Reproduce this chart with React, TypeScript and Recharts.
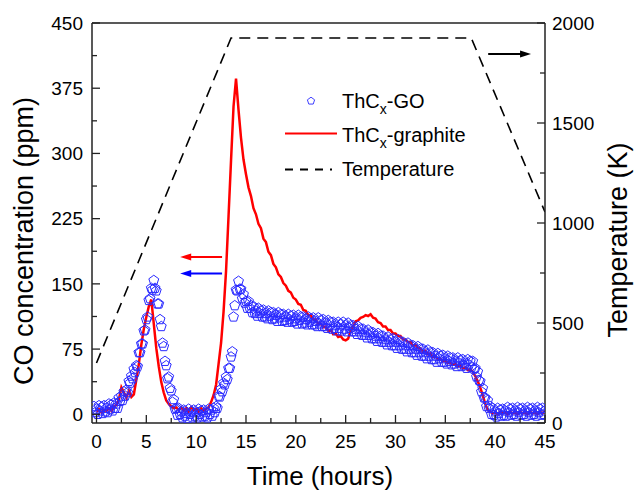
import React from 'react';
import { ComposedChart, Scatter, Line, XAxis, YAxis, ReferenceLine, Legend, Label } from 'recharts';

const FONT = '"Liberation Sans", Arial, sans-serif';

// ThCx-GO, logged every 0.125 h from t = -0.25 h
const goStart = -0.25;
const goStep = 0.125;
const goCO = [
  9, 2, 6, 0, 10, 4, 8, 1,
  10, 3, 7, 2, 12, 6, 11, 4,
  13, 7, 12, 7, 19, 15, 21, 16,
  26, 21, 28, 25, 38, 36, 44, 41,
  52, 48, 56, 55, 71, 71, 81, 81,
  96, 97, 109, 112, 131, 133, 145, 143,
  154, 145, 142, 127, 127, 109, 101, 82,
  78, 61, 56, 41, 43, 30, 27, 14,
  17, 6, 7, -1, 7, 0, 3, -4,
  5, -2, 1, -5, 6, 0, 3, -4,
  5, -2, 2, -4, 6, 0, 4, -3,
  5, -2, 2, -4, 6, 0, 5, -2,
  7, 2, 9, 7, 21, 20, 29, 26,
  36, 34, 43, 40, 53, 53, 66, 72,
  112, 125, 143, 142, 153, 144, 144, 133,
  138, 128, 130, 122, 130, 122, 125, 117,
  124, 116, 119, 113, 122, 116, 119, 112,
  120, 112, 116, 110, 119, 113, 117, 109,
  117, 110, 114, 107, 117, 111, 115, 107,
  115, 108, 112, 106, 115, 109, 113, 106,
  114, 107, 110, 104, 114, 108, 112, 104,
  112, 105, 109, 103, 112, 106, 110, 103,
  111, 103, 107, 101, 111, 104, 108, 101,
  109, 101, 105, 99, 108, 102, 106, 98,
  106, 99, 102, 96, 106, 99, 103, 96,
  106, 98, 102, 95, 105, 99, 102, 95,
  102, 95, 98, 92, 101, 95, 98, 91,
  98, 91, 94, 88, 97, 91, 94, 87,
  94, 87, 90, 84, 93, 87, 90, 83,
  90, 83, 86, 80, 89, 83, 86, 79,
  87, 79, 83, 76, 86, 79, 83, 75,
  83, 75, 79, 72, 82, 75, 79, 71,
  79, 71, 75, 68, 78, 71, 75, 67,
  75, 67, 71, 64, 74, 67, 71, 63,
  71, 63, 67, 60, 70, 64, 67, 60,
  68, 60, 64, 58, 67, 61, 65, 57,
  65, 58, 61, 55, 65, 59, 62, 55,
  63, 56, 59, 53, 63, 57, 61, 54,
  61, 52, 53, 43, 49, 39, 38, 26,
  30, 19, 19, 9, 16, 7, 9, 0,
  7, -1, 3, -3, 7, 1, 5, -2,
  6, -1, 4, -2, 8, 2, 6, -1,
  7, 0, 4, -2, 8, 2, 6, -1,
  7, 0, 4, -2, 8, 2, 6, -1,
  7, 0, 4, -2, 8, 2, 6, -1,
  7, 0, 4,
];

// ThCx-graphite, logged every 0.25 h from t = 0 h
const graphiteStart = 0;
const graphiteStep = 0.25;
const graphiteCO = [
  3, 6, 2, 5, 4, 7, 4, 9, 11, 17, 31, 25, 19, 27, 20, 23, 40, 58, 80, 98,
  112, 124, 132, 104, 76, 55, 37, 25, 16, 12, 9, 7, 8, 5, 8, 4, 7, 3, 8, 5,
  6, 3, 7, 4, 6, 8, 14, 22, 34, 58, 82, 118, 165, 228, 292, 354, 386, 350, 318, 293,
  276, 261, 251, 237, 230, 219, 214, 202, 198, 187, 183, 173, 169, 161, 158, 151, 148, 142, 140, 134,
  132, 127, 126, 120, 119, 114, 114, 109, 109, 104, 104, 100, 101, 96, 97, 92, 93, 89, 90, 86,
  85, 87, 96, 101, 107, 108, 111, 112, 114, 113, 115, 111, 110, 106, 105, 101, 101, 97, 97, 93,
  93, 90, 90, 86, 86, 83, 83, 79, 80, 76, 76, 72, 73, 69, 70, 66, 67, 63, 64, 61,
  62, 59, 60, 57, 58, 55, 56, 53, 54, 51, 52, 49, 44, 38, 31, 22, 12, 5, 3, 1,
  2, 0, 3, 1, 2, 0, 3, 1, 2, 0, 3, 1, 2, 0, 3, 1, 2, 0, 3, 1, 4,
];

// furnace temperature program
const tempTime = [0, 13.5, 37.6, 45];
const tempK = [300, 1925, 1925, 1055];

const timeTicks = [0, 2.5, 5, 7.5, 10, 12.5, 15, 17.5, 20, 22.5, 25, 27.5, 30, 32.5, 35, 37.5, 40, 42.5, 45];
const coTicks = [0, 37.5, 75, 112.5, 150, 187.5, 225, 262.5, 300, 337.5, 375, 412.5, 450];
const tempTicks = [0, 250, 500, 750, 1000, 1250, 1500, 1750, 2000];

const goData = goCO.map((co, i) => ({ t: goStart + i * goStep, co }));
const graphiteData = graphiteCO.map((co, i) => ({ t: graphiteStart + i * graphiteStep, co }));
const tempData = tempTime.map((t, i) => ({ t, temp: tempK[i] }));

const AXIS = '#222';
const BLUE = '#2a2aff';
const RED = '#ff0000';

const Pentagon = ({ cx, cy, r = 5.2, stroke = BLUE, sw = 1 }: any) => {
  const pts = [];
  for (let k = 0; k < 5; k++) {
    const a = -Math.PI / 2 + (k * 2 * Math.PI) / 5;
    pts.push(`${cx + r * Math.cos(a)},${cy + r * Math.sin(a)}`);
  }
  return <polygon points={pts.join(' ')} fill="none" stroke={stroke} strokeWidth={sw} />;
};

const BottomTick = ({ x, y, payload }: any) => {
  const major = payload.value % 5 === 0;
  return (
    <g>
      <line x1={x} x2={x} y1={y} y2={y - (major ? 8 : 5)} stroke={AXIS} strokeWidth={1.3} />
      {major && (
        <text x={x} y={y + 25} textAnchor="middle" fontSize={19} fontFamily={FONT} fill="#000">
          {payload.value}
        </text>
      )}
    </g>
  );
};

const LeftTick = ({ x, y, payload }: any) => {
  const major = payload.value % 75 === 0;
  return (
    <g>
      <line x1={x} x2={x + (major ? 8 : 5)} y1={y} y2={y} stroke={AXIS} strokeWidth={1.3} />
      {major && (
        <text x={x - 9} y={y} dy="0.35em" textAnchor="end" fontSize={19} fontFamily={FONT} fill="#000">
          {payload.value}
        </text>
      )}
    </g>
  );
};

const RightTick = ({ x, y, payload }: any) => {
  const major = payload.value % 500 === 0;
  return (
    <g>
      <line x1={x} x2={x - (major ? 8 : 5)} y1={y} y2={y} stroke={AXIS} strokeWidth={1.3} />
      {major && (
        <text x={x + 7} y={y} dy="0.35em" textAnchor="start" fontSize={19} fontFamily={FONT} fill="#000">
          {payload.value}
        </text>
      )}
    </g>
  );
};

const arrow = (color: string) => (props: any) => {
  const { x1, y1, x2, y2 } = props;
  const dir = Math.sign(x2 - x1);
  return (
    <g>
      <line x1={x1} y1={y1} x2={x2 - dir * 8} y2={y2} stroke={color} strokeWidth={2} />
      <polygon
        points={`${x2},${y2} ${x2 - dir * 11},${y2 - 3.5} ${x2 - dir * 11},${y2 + 3.5}`}
        fill={color}
      />
    </g>
  );
};

const renderLegend = () => (
  <svg width={270} height={100} style={{ display: 'block', overflow: 'visible' }} fontFamily={FONT}>
    <Pentagon cx={31} cy={16} r={3.8} sw={0.9} />
    <text x={62} y={23} fontSize={20} fill="#000">
      ThC<tspan fontSize={14} dy={6}>x</tspan>
      <tspan dy={-6}>-GO</tspan>
    </text>
    <line x1={5} x2={57} y1={48.5} y2={48.5} stroke={RED} strokeWidth={2} />
    <text x={62} y={57} fontSize={20} fill="#000">
      ThC<tspan fontSize={14} dy={6}>x</tspan>
      <tspan dy={-6}>-graphite</tspan>
    </text>
    <line x1={5} x2={52} y1={84.5} y2={84.5} stroke="#000" strokeWidth={1.8} strokeDasharray="8 7" />
    <text x={62} y={91} fontSize={20} fill="#000">
      Temperature
    </text>
  </svg>
);

export default function App() {
  return (
    <div style={{ position: 'fixed', left: 0, top: 0, width: 635, height: 492, background: '#fff' }}>
      <ComposedChart width={635} height={492} margin={{ top: 23, right: 0, bottom: 0, left: 0 }}>
        <XAxis
          dataKey="t"
          type="number"
          domain={[-0.45, 45]}
          ticks={timeTicks}
          interval={0}
          allowDataOverflow
          height={69}
          tickSize={0}
          tickMargin={0}
          tickLine={false}
          tick={<BottomTick />}
          axisLine={{ stroke: AXIS, strokeWidth: 1.5 }}
        >
          <Label
            content={() => (
              <text x={320} y={485} textAnchor="middle" fontSize={26} fontFamily={FONT} fill="#000">
                Time (hours)
              </text>
            )}
          />
        </XAxis>
        <YAxis
          yAxisId="left"
          dataKey="co"
          type="number"
          domain={[-10, 450]}
          ticks={coTicks}
          interval={0}
          allowDataOverflow
          width={92}
          tickSize={0}
          tickMargin={0}
          tickLine={false}
          tick={<LeftTick />}
          axisLine={{ stroke: AXIS, strokeWidth: 1.5 }}
        >
          <Label
            content={() => (
              <text
                x={33}
                y={241}
                transform="rotate(-90 33 241)"
                textAnchor="middle"
                fontSize={27}
                fontFamily={FONT}
                fill="#000"
              >
                CO concentration (ppm)
              </text>
            )}
          />
        </YAxis>
        <YAxis
          yAxisId="right"
          orientation="right"
          dataKey="temp"
          type="number"
          domain={[0, 2000]}
          ticks={tempTicks}
          interval={0}
          allowDataOverflow
          width={90}
          tickSize={0}
          tickMargin={0}
          tickLine={false}
          tick={<RightTick />}
          axisLine={{ stroke: AXIS, strokeWidth: 1.5 }}
        >
          <Label
            content={() => (
              <text
                x={627}
                y={240}
                transform="rotate(-90 627 240)"
                textAnchor="middle"
                fontSize={27}
                fontFamily={FONT}
                fill="#000"
              >
                Temperature (K)
              </text>
            )}
          />
        </YAxis>

        <ReferenceLine yAxisId="left" y={450} stroke={AXIS} strokeWidth={1.5} />

        <Scatter
          yAxisId="left"
          name="ThCx-GO"
          data={goData}
          isAnimationActive={false}
          shape={(p: any) => <Pentagon cx={p.cx} cy={p.cy} />}
        />
        <Line
          yAxisId="left"
          name="ThCx-graphite"
          data={graphiteData}
          dataKey="co"
          type="linear"
          stroke={RED}
          strokeWidth={2.5}
          dot={false}
          isAnimationActive={false}
        />
        <Line
          yAxisId="right"
          name="Temperature"
          data={tempData}
          dataKey="temp"
          type="linear"
          stroke="#000"
          strokeWidth={1.6}
          strokeDasharray="11 7"
          dot={false}
          isAnimationActive={false}
        />

        <ReferenceLine
          yAxisId="left"
          segment={[{ x: 12.6, y: 181 }, { x: 8.4, y: 181 }]}
          shape={arrow(RED)}
        />
        <ReferenceLine
          yAxisId="left"
          segment={[{ x: 12.6, y: 162 }, { x: 8.4, y: 162 }]}
          shape={arrow('#0000ff')}
        />
        <ReferenceLine
          yAxisId="right"
          segment={[{ x: 39.3, y: 1845 }, { x: 43.6, y: 1845 }]}
          shape={arrow('#000')}
        />

        <Legend
          layout="vertical"
          align="center"
          verticalAlign="middle"
          wrapperStyle={{ left: 280, top: 85, width: 270, height: 100 }}
          content={renderLegend}
        />
      </ComposedChart>
    </div>
  );
}
